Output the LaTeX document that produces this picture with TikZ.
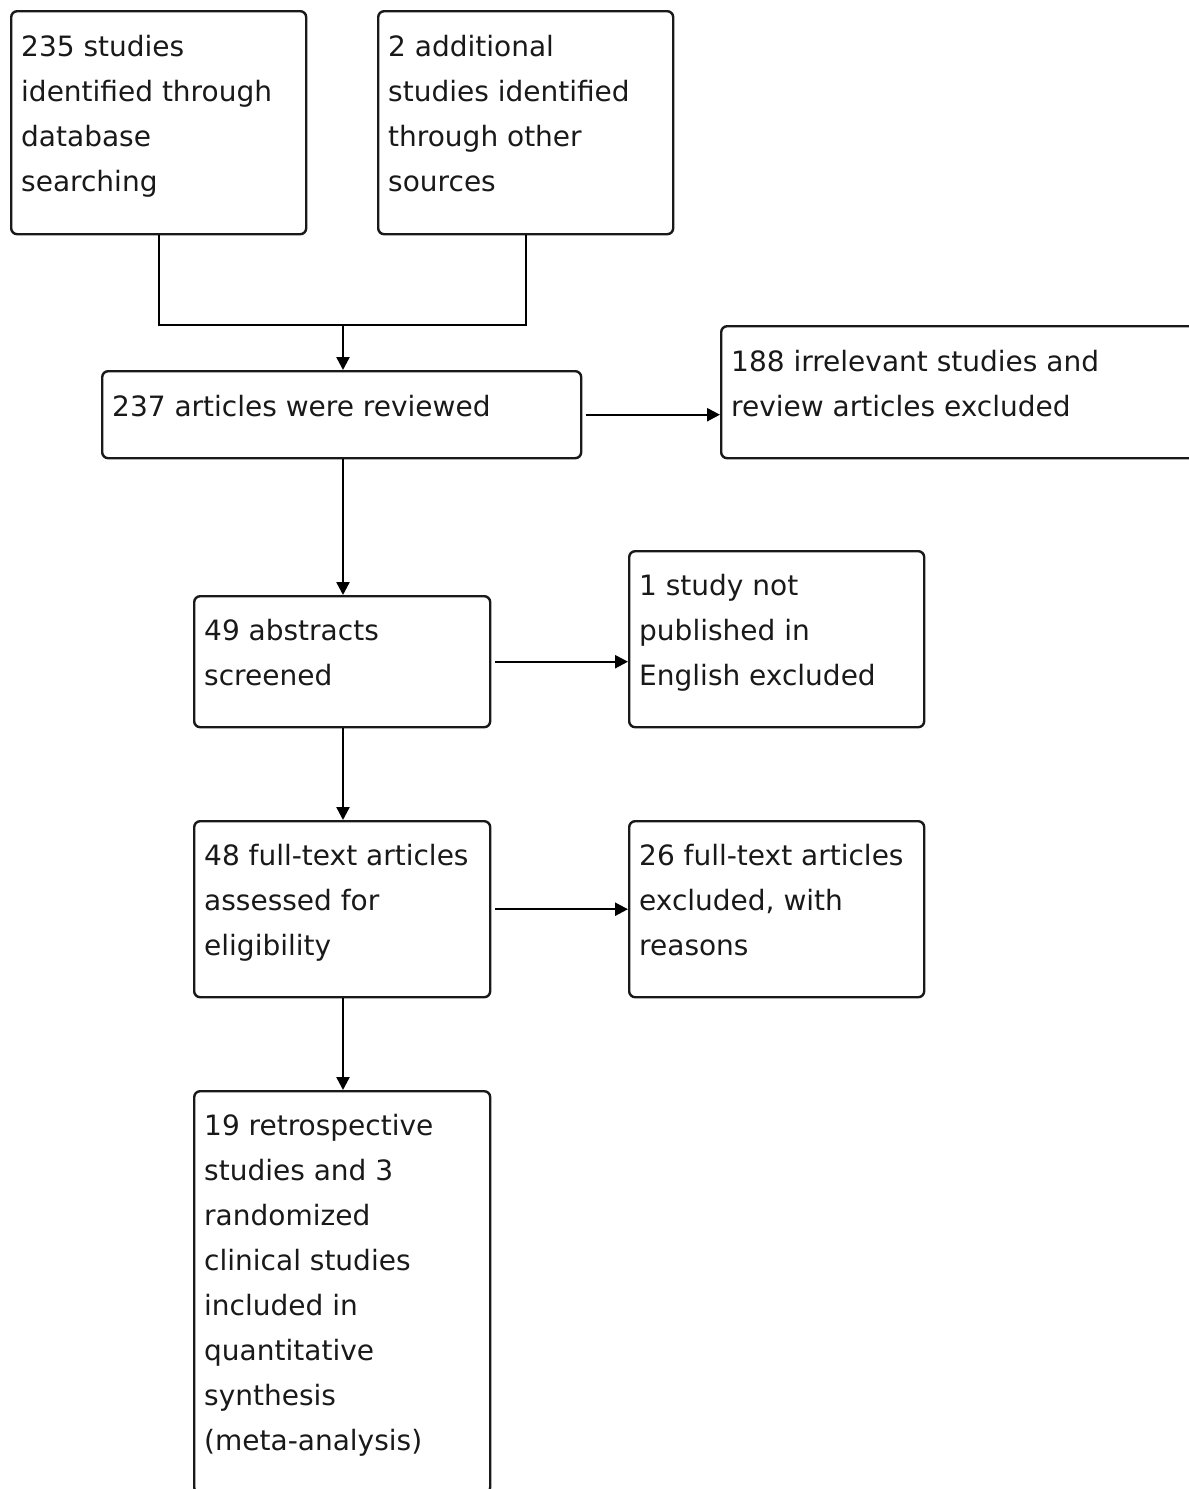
\documentclass[tikz,border=0pt]{standalone}
\usepackage{fontspec}
\setmainfont{DejaVu Sans}
\usetikzlibrary{arrows.meta,calc}
\begin{document}
\begin{tikzpicture}[x=1pt,y=-1pt,
  box/.style={draw=black!90,line width=2.4pt,rounded corners=6pt,inner sep=0pt,anchor=north west},
  txt/.style={anchor=north west,inner sep=0pt,align=left,text=black!90,
    font=\fontsize{28}{45}\selectfont},
  conn/.style={line width=2.4pt,draw=black},
  arr/.style={conn,-{Triangle[length=13pt,width=13pt]}}]
\useasboundingbox (0,0) rectangle (1189,1489);
\clip (0,0) rectangle (1189,1489);
\newcommand{\st}{\rule{0pt}{23pt}}
% boxes
\node[box,minimum width=295pt,minimum height=223pt] (b1) at (10,10) {};
\node[box,minimum width=295pt,minimum height=223pt] (b2) at (377,10) {};
\node[box,minimum width=479pt,minimum height=87pt] (b3) at (101,370) {};
\node[box,minimum width=480pt,minimum height=132pt] (b4) at (720,325) {};
\node[box,minimum width=296pt,minimum height=131pt] (b5) at (193,595) {};
\node[box,minimum width=295pt,minimum height=176pt] (b6) at (628,550) {};
\node[box,minimum width=296pt,minimum height=176pt] (b7) at (193,820) {};
\node[box,minimum width=295pt,minimum height=176pt] (b8) at (628,820) {};
\node[box,minimum width=296pt,minimum height=402pt] (b9) at (193,1090) {};
% texts
\node[txt] (t1) at ($(b1.north west)+(11,23)$) {\st235 studies\\identified through\\database\\searching};
\node[txt] (t2) at ($(b2.north west)+(11,23)$) {\st2 additional\\studies identified\\through other\\sources};
\node[txt] (t3) at ($(b3.north west)+(11,23)$) {\st237 articles were reviewed};
\node[txt] (t4) at ($(b4.north west)+(11,23)$) {\st188 irrelevant studies and\\review articles excluded};
\node[txt] (t5) at ($(b5.north west)+(11,22)$) {\st49 abstracts\\screened};
\node[txt] (t6) at ($(b6.north west)+(11,22)$) {\st1 study not\\published in\\English excluded};
\node[txt] (t7) at ($(b7.north west)+(11,22)$) {\st48 full-text articles\\assessed for\\eligibility};
\node[txt] (t8) at ($(b8.north west)+(11,22)$) {\st26 full-text articles\\excluded, with\\reasons};
\node[txt] (t9) at ($(b9.north west)+(11,22)$) {\st19 retrospective\\studies and 3\\randomized\\clinical studies\\included in\\quantitative\\synthesis\\(meta-analysis)};
% connectors
\coordinate (m) at (343,325);
\draw[conn] (b1.south) |- (m) -| (b2.south);
\draw[arr] (m) -- (m |- b3.north);
\draw[arr,shorten <=4pt] (b3.east) -- (b3.east -| b4.west);
\draw[arr] (b3.south -| m) -- (b5.north -| m);
\draw[arr,shorten <=4pt] (b5.east) -- (b5.east -| b6.west);
\draw[arr] (b5.south -| m) -- (b7.north -| m);
\draw[arr,shorten <=4pt] (b7.east) -- (b7.east -| b8.west);
\draw[arr] (b7.south -| m) -- (b9.north -| m);
\end{tikzpicture}
\end{document}
